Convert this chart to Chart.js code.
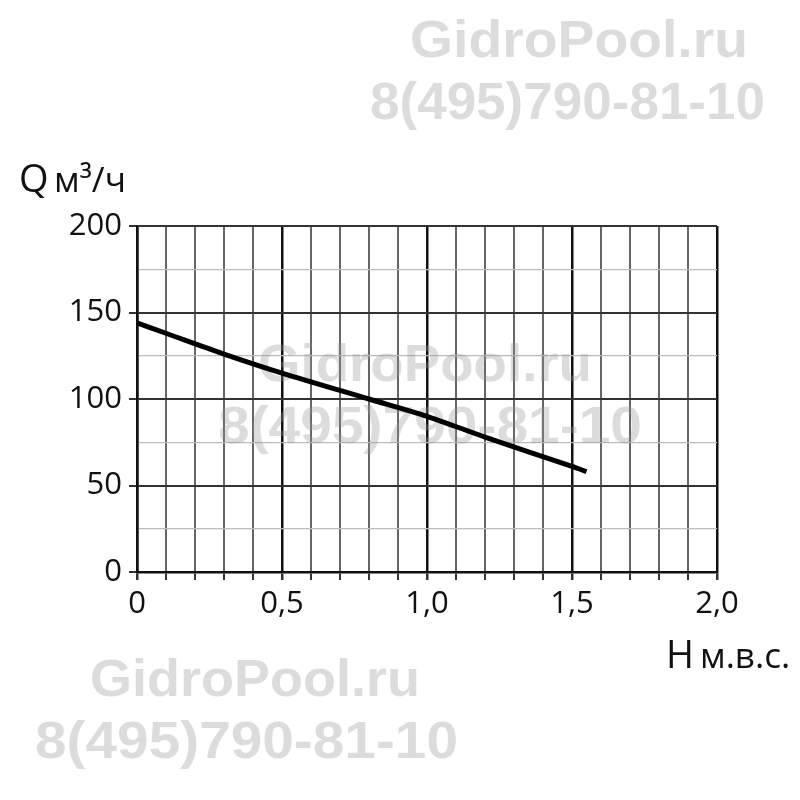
<!DOCTYPE html>
<html>
<head>
<meta charset="utf-8">
<script src="https://cdn.jsdelivr.net/npm/chart.js@4.4.0/dist/chart.umd.min.js"></script>
<style>
  html, body { margin: 0; padding: 0; background: #fff; }
  #wrap { width: 800px; height: 800px; }
</style>
</head>
<body>
<div id="wrap"><canvas id="pumpChart" width="800" height="800"></canvas></div>
<script>
// Head H (m) vs flow Q (m3/h)
const headValues = [0, 0.1, 0.3, 0.5, 0.8, 1.0, 1.2, 1.5, 1.55];
const flowValues = [144, 138, 126, 115, 100, 90, 78, 61, 58];
const watermarkLines = ["GidroPool.ru", "8(495)790-81-10"];

const points = headValues.map((h, i) => ({ x: h, y: flowValues[i] }));

// Check if a x tick falls on a 0.5 step
function isMajorX(v) {
  return Math.round(v * 10) % 5 === 0;
}
function isMajorY(v) {
  return Math.round(v) % 50 === 0;
}

// Watermarks and axis titles drawn on the canvas
const extrasPlugin = {
  id: "extras",
  beforeDatasetsDraw(chart) {
    const ctx = chart.ctx;
    ctx.save();
    ctx.fillStyle = "rgba(150,150,150,0.33)";
    ctx.textBaseline = "alphabetic";
    const marks = [
      [watermarkLines[0], 410, 57, 338],
      [watermarkLines[1], 370, 119, 395],
      [watermarkLines[0], 258, 381, 334],
      [watermarkLines[1], 218, 443, 424],
      [watermarkLines[0], 90, 696, 330],
      [watermarkLines[1], 35, 758, 423]
    ];
    marks.forEach(([txt, x, y, w]) => {
      ctx.font = "bold 52px 'Liberation Sans'";
      const mw = ctx.measureText(txt).width;
      ctx.save();
      ctx.translate(x, y);
      ctx.scale(w / mw, 1);
      ctx.fillText(txt, 0, 0);
      ctx.restore();
    });
    ctx.restore();
  },
  afterDraw(chart) {
    const ctx = chart.ctx;
    ctx.save();
    ctx.fillStyle = "#111";
    ctx.textBaseline = "alphabetic";
    ctx.font = "38px 'Open Sans'";
    ctx.fillText("Q", 19, 192);
    ctx.font = "35px 'Open Sans'";
    ctx.fillText("м³/ч", 54, 192);
    ctx.font = "38px 'Open Sans'";
    ctx.fillText("H", 666, 668);
    ctx.font = "35px 'Open Sans'";
    ctx.fillText("м.в.с.", 700, 668);
    ctx.restore();
  }
};

const ctx = document.getElementById("pumpChart").getContext("2d");
new Chart(ctx, {
  type: "scatter",
  data: {
    datasets: [{
      data: points,
      showLine: true,
      borderColor: "#000",
      borderWidth: 5,
      pointRadius: 0,
      tension: 0.3,
      borderCapStyle: "butt"
    }]
  },
  options: {
    responsive: false,
    animation: false,
    layout: { padding: { top: 226, right: 83, left: 0, bottom: 0 } },
    plugins: { legend: { display: false }, tooltip: { enabled: false } },
    scales: {
      x: {
        type: "linear",
        min: 0,
        max: 2,
        afterFit: (scale) => { scale.height = 228; },
        ticks: {
          stepSize: 0.1,
          autoSkip: false,
          maxRotation: 0,
          padding: 6,
          color: "#111",
          font: { family: "'Open Sans'", size: 31 },
          callback: (v) => {
            if (!isMajorX(v)) return "";
            if (Math.abs(v) < 1e-9) return "0";
            return v.toFixed(1).replace(".", ",");
          }
        },
        grid: {
          color: (c) => isMajorX(c.tick.value) ? "#111" : "#666",
          lineWidth: (c) => isMajorX(c.tick.value) ? 2.5 : 2,
          tickLength: 8,
          tickColor: "#333"
        },
        border: { color: "#111", width: 2.5 }
      },
      y: {
        min: 0,
        max: 200,
        afterFit: (scale) => { scale.width = 137; },
        ticks: {
          stepSize: 25,
          autoSkip: false,
          padding: 7,
          color: "#111",
          font: { family: "'Open Sans'", size: 31 },
          callback: (v) => isMajorY(v) ? String(v) : ""
        },
        grid: {
          color: (c) => isMajorY(c.tick.value) ? "#333" : "#bbb",
          lineWidth: (c) => isMajorY(c.tick.value) ? 2 : 1.2,
          tickLength: 8,
          tickColor: (c) => isMajorY(c.tick.value) ? "#333" : "rgba(0,0,0,0)"
        },
        border: { color: "#111", width: 2.5 }
      }
    }
  },
  plugins: [extrasPlugin]
});
</script>
</body>
</html>
